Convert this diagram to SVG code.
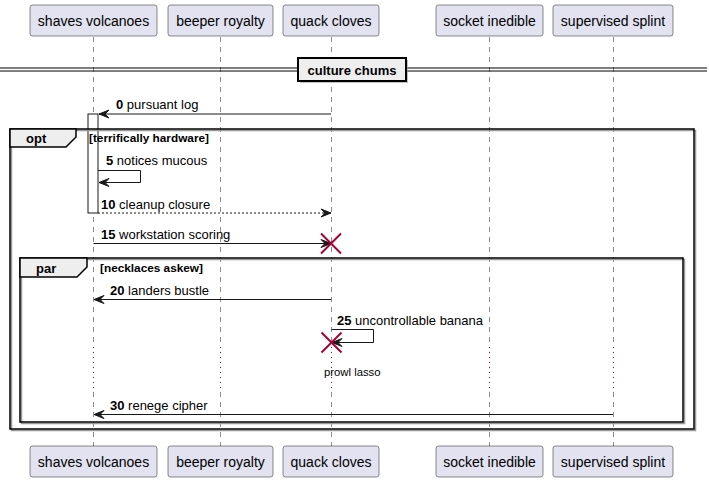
<svg xmlns="http://www.w3.org/2000/svg" width="709" height="482" viewBox="0 0 709 482">
<style>
.pbox{fill:#E2E2F0;stroke:#181818;stroke-width:0.5}
.ptxt{font-family:"Liberation Sans",Arial,sans-serif;font-size:14px;fill:#000;text-anchor:middle}
.life{stroke:#181818;stroke-width:0.5;stroke-dasharray:5,5;fill:none}
.delay{stroke:#A80036;stroke-width:1;stroke-dasharray:1,4;fill:none}
.msg{stroke:#181818;stroke-width:1;fill:none}
.dash{stroke-dasharray:2,2}
.mtxt{font-family:"Liberation Sans",Arial,sans-serif;font-size:13px;fill:#000}
.num{font-weight:bold}
.frame{fill:none;stroke:#000;stroke-width:1.5}
.shadow{fill:none;stroke:#999;stroke-width:1.5}
.tab{fill:#EEEEEE;stroke:#000;stroke-width:1.5}
.ftxt{font-family:"Liberation Sans",Arial,sans-serif;font-size:13px;font-weight:bold;fill:#000}
.guard{font-family:"Liberation Sans",Arial,sans-serif;font-size:11.8px;font-weight:bold;fill:#000}
.x{stroke:#A80036;stroke-width:2}
</style>
<defs>
<marker id="arr" viewBox="0 0 12 10" refX="11" refY="5" markerWidth="12" markerHeight="10" markerUnits="userSpaceOnUse" orient="auto">
<polygon points="1,1 11,5 1,9 5,5" fill="#181818" stroke="#181818" stroke-width="1"/>
</marker>
</defs>
<rect width="709" height="482" fill="#FFFFFF"/>

<g id="lifelines">
<line class="life" x1="93.5" y1="37" x2="93.5" y2="347"/>
<line class="delay" x1="93.5" y1="347" x2="93.5" y2="392"/>
<line class="life" x1="93.5" y1="392" x2="93.5" y2="446"/>
<line class="life" x1="220.5" y1="37" x2="220.5" y2="347"/>
<line class="delay" x1="220.5" y1="347" x2="220.5" y2="392"/>
<line class="life" x1="220.5" y1="392" x2="220.5" y2="446"/>
<line class="life" x1="331.5" y1="37" x2="331.5" y2="347"/>
<line class="delay" x1="331.5" y1="347" x2="331.5" y2="392"/>
<line class="life" x1="331.5" y1="392" x2="331.5" y2="446"/>
<line class="life" x1="489.5" y1="37" x2="489.5" y2="347"/>
<line class="delay" x1="489.5" y1="347" x2="489.5" y2="392"/>
<line class="life" x1="489.5" y1="392" x2="489.5" y2="446"/>
<line class="life" x1="613.5" y1="37" x2="613.5" y2="347"/>
<line class="delay" x1="613.5" y1="347" x2="613.5" y2="392"/>
<line class="life" x1="613.5" y1="392" x2="613.5" y2="446"/>
</g>

<g id="p-shaves-volcanoes">
<rect class="pbox" x="30" y="5" width="127" height="31" rx="2.5"/>
<text class="ptxt" x="93.5" y="26">shaves volcanoes</text>
<rect class="pbox" x="30" y="446" width="127" height="31" rx="2.5"/>
<text class="ptxt" x="93.5" y="467">shaves volcanoes</text>
</g>
<g id="p-beeper-royalty">
<rect class="pbox" x="168" y="5" width="105" height="31" rx="2.5"/>
<text class="ptxt" x="220.5" y="26">beeper royalty</text>
<rect class="pbox" x="168" y="446" width="105" height="31" rx="2.5"/>
<text class="ptxt" x="220.5" y="467">beeper royalty</text>
</g>
<g id="p-quack-cloves">
<rect class="pbox" x="283" y="5" width="96" height="31" rx="2.5"/>
<text class="ptxt" x="331" y="26">quack cloves</text>
<rect class="pbox" x="283" y="446" width="96" height="31" rx="2.5"/>
<text class="ptxt" x="331" y="467">quack cloves</text>
</g>
<g id="p-socket-inedible">
<rect class="pbox" x="436" y="5" width="107" height="31" rx="2.5"/>
<text class="ptxt" x="489.5" y="26">socket inedible</text>
<rect class="pbox" x="436" y="446" width="107" height="31" rx="2.5"/>
<text class="ptxt" x="489.5" y="467">socket inedible</text>
</g>
<g id="p-supervised-splint">
<rect class="pbox" x="553" y="5" width="120" height="31" rx="2.5"/>
<text class="ptxt" x="613" y="26">supervised splint</text>
<rect class="pbox" x="553" y="446" width="120" height="31" rx="2.5"/>
<text class="ptxt" x="613" y="467">supervised splint</text>
</g>

<g id="divider">
<line x1="0" y1="68" x2="707" y2="68" stroke="#000" stroke-width="1"/>
<line x1="0" y1="71" x2="707" y2="71" stroke="#000" stroke-width="1"/>
<rect x="300" y="60" width="108" height="23" fill="#999" opacity="0.6"/>
<rect x="298" y="58" width="108" height="23" fill="#EEEEEE" stroke="#000" stroke-width="2"/>
<text class="ftxt" x="352" y="74.5" text-anchor="middle">culture chums</text>
</g>

<g id="activation">
<rect x="88" y="114" width="10" height="99" fill="#FFFFFF" stroke="#181818" stroke-width="1"/>
</g>

<g id="frame-opt">
<rect class="shadow" x="11.5" y="130.5" width="684" height="300"/>
<rect class="frame" x="10" y="129" width="684" height="300"/>
<polygon class="tab" points="10,129 76,129 76,137 66,147 10,147"/>
<text class="ftxt" x="26" y="143">opt</text>
<text class="guard" x="89" y="142">[terrifically hardware]</text>
</g>
<g id="frame-par">
<rect class="shadow" x="21.5" y="259.5" width="663" height="164"/>
<rect class="frame" x="20" y="258" width="663" height="164"/>
<polygon class="tab" points="20,258 87,258 87,267 77,277 20,277"/>
<text class="ftxt" x="36" y="272.5">par</text>
<text class="guard" x="100" y="272">[necklaces askew]</text>
</g>

<g id="connectors">
<line class="msg" x1="331" y1="114" x2="99" y2="114" marker-end="url(#arr)"/>
<text class="mtxt" x="116" y="109"><tspan class="num">0</tspan> pursuant log</text>

<polyline class="msg" points="98,170.5 140.5,170.5 140.5,182.5 99,182.5" marker-end="url(#arr)"/>
<text class="mtxt" x="106" y="165"><tspan class="num">5</tspan> notices mucous</text>

<line class="msg dash" x1="98" y1="213" x2="331" y2="213" marker-end="url(#arr)"/>
<text class="mtxt" x="101" y="208.5"><tspan class="num">10</tspan> cleanup closure</text>

<line class="msg" x1="93.5" y1="243.5" x2="331" y2="243.5" marker-end="url(#arr)"/>
<text class="mtxt" x="101" y="239"><tspan class="num">15</tspan> workstation scoring</text>
<line class="x" x1="321" y1="233.5" x2="341" y2="253.5"/>
<line class="x" x1="341" y1="233.5" x2="321" y2="253.5"/>

<line class="msg" x1="331" y1="299.5" x2="94" y2="299.5" marker-end="url(#arr)"/>
<text class="mtxt" x="110" y="295"><tspan class="num">20</tspan> landers bustle</text>

<polyline class="msg" points="331.5,329.5 373.5,329.5 373.5,342.5 332,342.5" marker-end="url(#arr)"/>
<text class="mtxt" x="337" y="325"><tspan class="num">25</tspan> uncontrollable banana</text>
<line class="x" x1="321.5" y1="332.5" x2="341.5" y2="352.5"/>
<line class="x" x1="341.5" y1="332.5" x2="321.5" y2="352.5"/>

<text class="mtxt" x="324" y="375.5" style="font-size:11.3px">prowl lasso</text>

<line class="msg" x1="613" y1="414.5" x2="94" y2="414.5" marker-end="url(#arr)"/>
<text class="mtxt" x="110" y="410"><tspan class="num">30</tspan> renege cipher</text>
</g>
</svg>
